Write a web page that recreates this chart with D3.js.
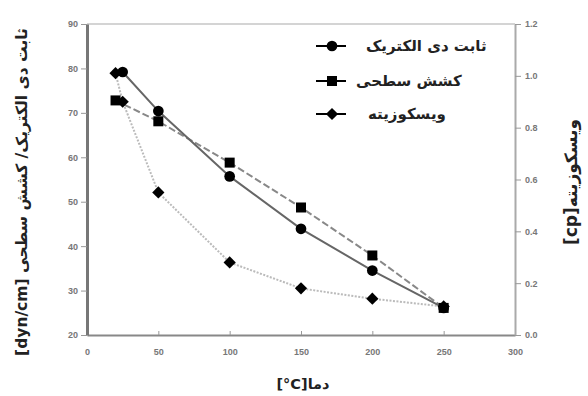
<!DOCTYPE html>
<html>
<head>
<meta charset="utf-8">
<script src="https://cdn.jsdelivr.net/npm/d3@7"></script>
<style>
  html, body { margin: 0; padding: 0; background: #fff; }
  svg { display: block; }
  .tick text { font-family: "Liberation Sans", Arial, sans-serif; font-weight: bold; font-size: 9px; fill: #777; }
  .title { font-family: "DejaVu Sans", sans-serif; font-weight: bold; fill: #222; }
</style>
</head>
<body>
<svg id="chart" width="588" height="396"></svg>
<script>
// Temperature (°C) on the x axis
const dielectricT = [25, 50, 100, 150, 200, 250];
const dielectricV = [79.2, 70.4, 55.7, 43.9, 34.5, 26.1];

const tensionT = [20, 50, 100, 150, 200, 250];
const tensionV = [72.8, 68.1, 58.8, 48.7, 37.9, 26.1];

// Viscosity in cp, plotted on the right axis
const viscT = [20, 25, 50, 100, 150, 200, 250];
const viscV = [1.01, 0.90, 0.55, 0.28, 0.18, 0.14, 0.11];

const xTicks = [0, 50, 100, 150, 200, 250, 300];
const yLeftTicks = [20, 30, 40, 50, 60, 70, 80, 90];
const yRightTicks = [0.0, 0.2, 0.4, 0.6, 0.8, 1.0, 1.2];

const legendLabels = ["ثابت دی الکتریک", "کشش سطحی", "ویسکوزیته"];
// units wrapped in LTR isolates so brackets and the degree sign keep their order
const xTitle = "دما\u2066[°C]\u2069";
const yLeftTitle = "ثابت دی الکتریک/ کشش سطحی \u2066[dyn/cm]\u2069";
const yRightTitle = "ویسکوزیته\u2066[cp]\u2069";

const svg = d3.select("#chart");
const x = d3.scaleLinear().domain([0, 300]).range([87, 515]);
const yL = d3.scaleLinear().domain([20, 90]).range([335, 24]);
const yR = d3.scaleLinear().domain([0, 1.2]).range([335, 24]);

// frame top edge
svg.append("line").attr("x1", 87).attr("x2", 515).attr("y1", 24).attr("y2", 24)
  .attr("stroke", "#aaa").attr("stroke-width", 1.2);

// axes
const gx = svg.append("g").attr("transform", "translate(0,335)")
  .call(d3.axisBottom(x).tickValues(xTicks).tickFormat(d3.format("d")).tickSizeInner(-4).tickSizeOuter(0).tickPadding(14));
const gl = svg.append("g").attr("transform", "translate(87,0)")
  .call(d3.axisLeft(yL).tickValues(yLeftTicks).tickFormat(d3.format("d")).tickSizeInner(6).tickSizeOuter(0).tickPadding(3));
const gr = svg.append("g").attr("transform", "translate(515,0)")
  .call(d3.axisRight(yR).tickValues(yRightTicks).tickFormat(d3.format(".1f")).tickSizeInner(6).tickSizeOuter(0).tickPadding(4));

gx.select(".domain").attr("stroke", "#888").attr("stroke-width", 2);
gl.select(".domain").attr("stroke", "#777").attr("stroke-width", 3);
gr.select(".domain").attr("stroke", "#aaa").attr("stroke-width", 2);
[gx, gl, gr].forEach(g => g.selectAll(".tick line").attr("stroke", "#999"));

// series lines
const line = (xs, ys, sy) => d3.line().x((d, i) => x(xs[i])).y((d, i) => sy(ys[i]))(xs);

svg.append("path").attr("d", line(tensionT, tensionV, yL))
  .attr("fill", "none").attr("stroke", "#888").attr("stroke-width", 2).attr("stroke-dasharray", "7,3");
svg.append("path").attr("d", line(viscT, viscV, yR))
  .attr("fill", "none").attr("stroke", "#bbb").attr("stroke-width", 2).attr("stroke-dasharray", "2,1.5");
svg.append("path").attr("d", line(dielectricT, dielectricV, yL))
  .attr("fill", "none").attr("stroke", "#666").attr("stroke-width", 2);

// markers; the diamond is a square turned 45 degrees
const sym = {
  circle: { d: d3.symbol().type(d3.symbolCircle).size(90)(), rot: 0 },
  square: { d: d3.symbol().type(d3.symbolSquare).size(100)(), rot: 0 },
  diamond: { d: d3.symbol().type(d3.symbolSquare).size(75)(), rot: 45 }
};
function marks(xs, ys, sy, s) {
  svg.append("g").selectAll("path").data(xs).join("path")
    .attr("d", s.d)
    .attr("transform", (d, i) => `translate(${x(xs[i])},${sy(ys[i])}) rotate(${s.rot})`)
    .attr("fill", "#000");
}
marks(viscT, viscV, yR, sym.diamond);
marks(tensionT, tensionV, yL, sym.square);
marks(dielectricT, dielectricV, yL, sym.circle);

// legend: sample line + marker, label to its right
const legendSyms = [sym.circle, sym.square, sym.diamond];
const legendY = [46, 81, 114];
const legendTextX = [366, 356, 368];
legendLabels.forEach((lab, i) => {
  const g = svg.append("g").attr("transform", `translate(0,${legendY[i]})`);
  g.append("line").attr("x1", 316).attr("x2", 346).attr("y1", 0).attr("y2", 0)
    .attr("stroke", "#000").attr("stroke-width", 2);
  g.append("path").attr("d", legendSyms[i].d)
    .attr("transform", `translate(332,0) rotate(${legendSyms[i].rot})`).attr("fill", "#000");
  g.append("text").attr("class", "title").attr("x", legendTextX[i]).attr("y", 5)
    .attr("text-anchor", "start").attr("font-size", 15).text(lab);
});

// axis titles
svg.append("text").attr("class", "title").attr("direction", "rtl")
  .attr("text-anchor", "middle").attr("font-size", 15.5)
  .attr("transform", "translate(27,192) rotate(-90)").text(yLeftTitle);
svg.append("text").attr("class", "title").attr("direction", "rtl")
  .attr("text-anchor", "middle").attr("font-size", 17)
  .attr("transform", "translate(577,182) rotate(-90)").text(yRightTitle);
svg.append("text").attr("class", "title").attr("direction", "rtl")
  .attr("text-anchor", "middle").attr("font-size", 14.5)
  .attr("x", 303).attr("y", 389).text(xTitle);
</script>
</body>
</html>
